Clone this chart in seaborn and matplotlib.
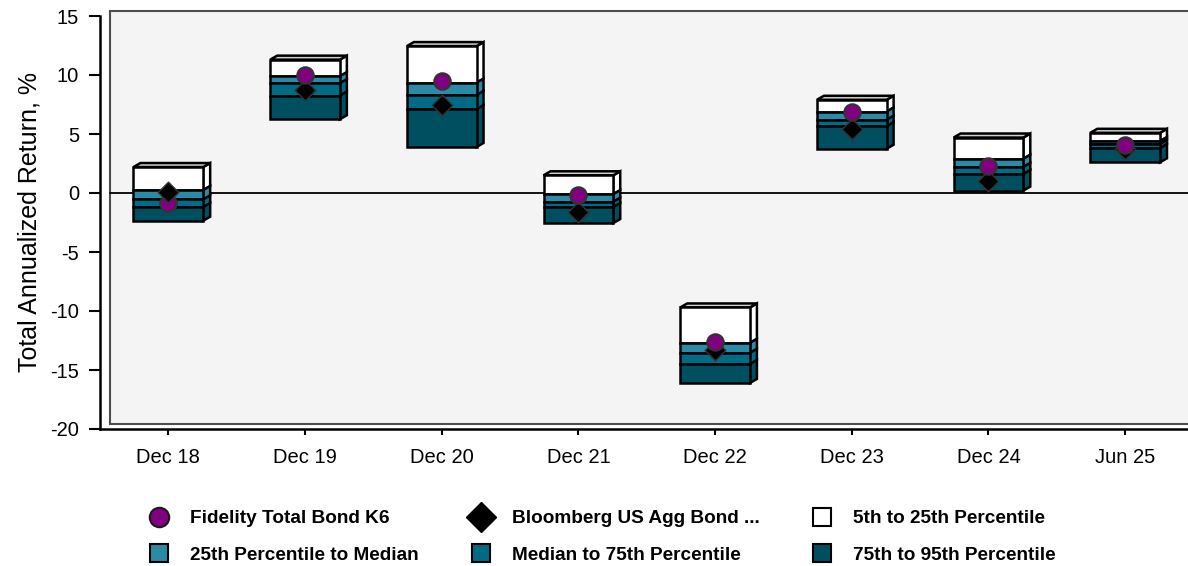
import numpy as np
import matplotlib
matplotlib.use("Agg")
import matplotlib.pyplot as plt
from matplotlib.patches import Polygon, Rectangle
from matplotlib.lines import Line2D
import seaborn as sns

# --- data ---
periods = ["Dec 18", "Dec 19", "Dec 20", "Dec 21", "Dec 22", "Dec 23", "Dec 24", "Jun 25"]
p05 = [2.2, 11.3, 12.45, 1.5, -9.7, 7.9, 4.7, 5.1]
p25 = [0.25, 9.9, 9.35, -0.1, -12.7, 6.9, 2.9, 4.4]
p50 = [-0.55, 9.3, 8.3, -0.75, -13.55, 6.2, 2.2, 4.15]
p75 = [-1.2, 8.25, 7.1, -1.2, -14.5, 5.65, 1.6, 3.8]
p95 = [-2.35, 6.25, 3.9, -2.55, -16.1, 3.75, 0.2, 2.6]
fund = [-0.85, 10.0, 9.5, -0.15, -12.65, 6.9, 2.25, 4.05]
bench = [0.05, 8.7, 7.45, -1.65, -13.3, 5.4, 1.05, 3.7]

band_names = ["5th to 25th Percentile", "25th Percentile to Median",
              "Median to 75th Percentile", "75th to 95th Percentile"]
band_colors = ["#ffffff", "#2b8aa6", "#006b87", "#004f60"]

sns.set_theme(style="white")
plt.rcParams["font.family"] = ["Liberation Sans", "DejaVu Sans"]
plt.rcParams["axes.unicode_minus"] = False

fig = plt.figure(figsize=(11.88, 5.66), dpi=100)
ax = fig.add_axes([100 / 1188, 137 / 566, 1093.5 / 1188, 413 / 566])
ax.set_xlim(-0.5, 7.5)
ax.set_ylim(-20, 15)

x = np.arange(len(periods))
w = 0.51
dx, dy = 0.051, 0.34  # 3d depth
elw = 1.8

# back wall + zero line
ax.add_patch(Rectangle((-0.43, -19.6), 9, 35.0, facecolor="#f4f4f4",
                       edgecolor="#4d4d4d", lw=1.5, zorder=0, clip_on=False))
ax.plot([-0.43, 8.5], [0, 0], color="black", lw=1.3, zorder=1, clip_on=False)

bounds = [p05, p25, p50, p75, p95]
for i, col in enumerate(band_colors):
    top = np.array(bounds[i])
    bot = np.array(bounds[i + 1])
    for xi, t, b in zip(x, top, bot):
        side = [(xi + w / 2, b), (xi + w / 2 + dx, b + dy),
                (xi + w / 2 + dx, t + dy), (xi + w / 2, t)]
        ax.add_patch(Polygon(side, closed=True, facecolor=col,
                             edgecolor="black", lw=elw, zorder=2))
        if i == 0:
            lid = [(xi - w / 2, t), (xi + w / 2, t),
                   (xi + w / 2 + dx, t + dy), (xi - w / 2 + dx, t + dy)]
            ax.add_patch(Polygon(lid, closed=True, facecolor="#d0d0d0",
                                 edgecolor="black", lw=elw, zorder=2))
    ax.bar(x, top - bot, bottom=bot, width=w, color=col,
           edgecolor="black", linewidth=elw, zorder=3)

# the higher marker sits on top where they overlap
fund_a = np.array(fund)
bench_a = np.array(bench)
up = bench_a >= fund_a
sns.scatterplot(x=x[~up], y=bench_a[~up], marker="D", s=110, color="black",
                edgecolor="#333333", linewidth=1, zorder=5, ax=ax, legend=False)
sns.scatterplot(x=x, y=fund_a, marker="o", s=140, color="#800080",
                edgecolor="#333333", linewidth=1.5, zorder=6, ax=ax, legend=False)
sns.scatterplot(x=x[up], y=bench_a[up], marker="D", s=110, color="black",
                edgecolor="#333333", linewidth=1, zorder=7, ax=ax, legend=False)

ax.set_xticks(x)
ax.set_xticklabels(periods)
ax.set_yticks(range(-20, 16, 5))
ax.tick_params(axis="y", left=True, direction="out", length=8, width=1.5,
               labelsize=14.5, pad=7, colors="black")
ax.tick_params(axis="x", bottom=True, direction="out", length=4, width=1.5,
               labelsize=14.5, pad=10, colors="black")
ax.set_ylabel("Total Annualized Return, %", fontsize=18, labelpad=6, color="black")
ax.set_xlabel("")
ax.set_facecolor("white")
ax.grid(False)
for s in ["top", "right"]:
    ax.spines[s].set_visible(False)
for s in ["left", "bottom"]:
    ax.spines[s].set_color("black")
    ax.spines[s].set_linewidth(1.8)

# --- legend ---
def sq(c):
    return Line2D([], [], marker="s", ls="none", markerfacecolor=c,
                  markeredgecolor="black", markersize=12.5, markeredgewidth=1.5)

h_fund = Line2D([], [], marker="o", ls="none", markerfacecolor="#800080",
                markeredgecolor="#1a1a1a", markersize=14, markeredgewidth=1.5)
h_bench = Line2D([], [], marker="D", ls="none", markerfacecolor="black",
                 markeredgecolor="black", markersize=15)
handles = [h_fund, sq(band_colors[1]), h_bench, sq(band_colors[2]),
           sq(band_colors[0]), sq(band_colors[3])]
labels = ["Fidelity Total Bond K6", band_names[1], "Bloomberg US Agg Bond ...",
          band_names[2], band_names[0], band_names[3]]
leg = fig.legend(handles, labels, loc="upper left",
                 bbox_to_anchor=(148 / 1188, 1 - 510 / 566),
                 ncol=3, frameon=False, borderpad=0, borderaxespad=0,
                 handlelength=1.2, handletextpad=1.0, columnspacing=2.7,
                 labelspacing=1.0,
                 prop={"family": ["Liberation Sans", "DejaVu Sans"],
                       "weight": "bold", "size": 13.7})
for t in leg.get_texts():
    t.set_color("black")

fig.savefig("out.png", dpi=100)
